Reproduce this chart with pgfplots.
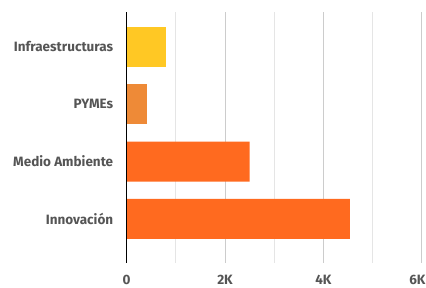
\documentclass[border=0pt]{standalone}
\usepackage{pgfplots}
\pgfplotsset{compat=1.18}
\usepackage{fontspec}
\setmainfont{Fira Sans}
\definecolor{cyellow}{HTML}{FFC824}
\definecolor{cpyme}{HTML}{EE8A37}
\definecolor{corange}{HTML}{FF6A1F}
\definecolor{labgray}{HTML}{555555}
\begin{document}
\begin{tikzpicture}
\useasboundingbox (-126.7bp,-25bp) rectangle (299.3bp,263bp);
\begin{axis}[
  scale only axis,
  width=295bp, height=251bp,
  y dir=reverse,
  xmin=0, xmax=6000,
  ymin=-0.61, ymax=3.77,
  ytick={0,1,2,3},
  yticklabels={Infraestructuras,PYMEs,Medio Ambiente,Innovación},
  xtick={0,2000,4000,6000},
  xticklabels={0,2K,4K,\makebox[7.6bp][r]{6K}},
  minor xtick={1000,3000,5000},
  xmajorgrids, xminorgrids,
  major grid style={draw=black!20, line width=1bp},
  minor grid style={draw=black!10, line width=1bp},
  axis line style={draw=none},
  major tick length=0pt, minor tick length=0pt,
  tick style={draw=none},
  ticklabel style={font=\fontsize{13.5bp}{15bp}\selectfont\bfseries, text=labgray},
  yticklabel style={xshift=-10bp},
  xticklabel style={yshift=-9bp},
  /pgf/number format/assume math mode=true,
  xbar, bar width=40bp, bar shift=0pt,
  clip=false,
]
\addplot[draw=none, fill=cyellow] coordinates {(800,0)};
\addplot[draw=none, fill=cpyme] coordinates {(415,1)};
\addplot[draw=none, fill=corange] coordinates {(2500,2) (4540,3)};
\draw[black, line width=1bp] (axis cs:0,-0.61) -- (axis cs:0,3.77);
\end{axis}
\end{tikzpicture}
\end{document}
